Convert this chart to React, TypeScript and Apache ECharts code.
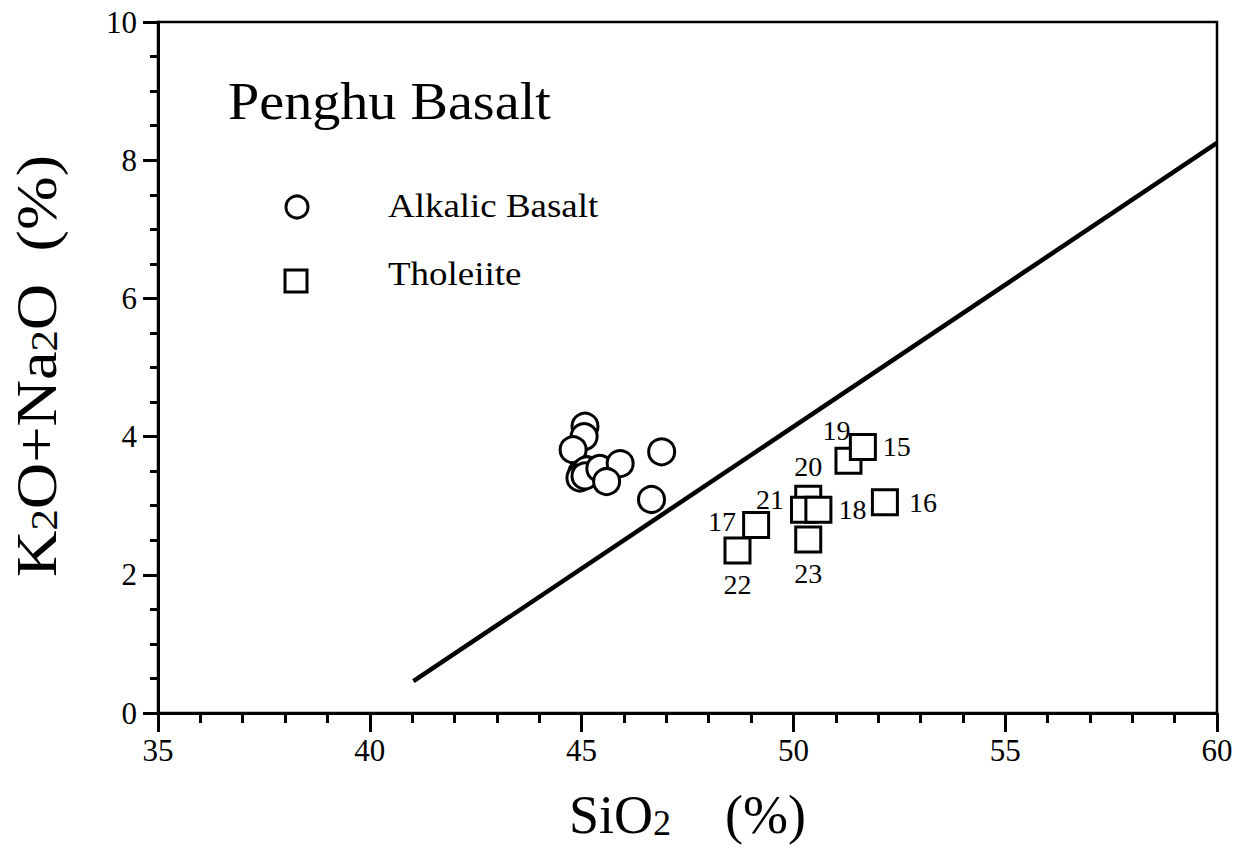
import React, { useEffect, useRef } from "react";
import * as echarts from "echarts";

const FONT = "'Liberation Serif', 'Times New Roman', serif";

const xTicks = [35, 40, 45, 50, 55, 60];
const yTicks = [0, 2, 4, 6, 8, 10];

const alkalicX = [45.08, 45.06, 44.8, 45.0, 45.12, 44.96, 45.08, 45.43, 45.91, 45.59, 46.89, 46.65];
const alkalicY = [4.15, 4.0, 3.81, 3.47, 3.52, 3.4, 3.43, 3.54, 3.61, 3.35, 3.78, 3.09];

const tholLabels = ["19", "15", "22", "17", "20", "21", "23", "18", "16"];
const tholX = [51.3, 51.64, 48.68, 49.12, 50.35, 50.25, 50.35, 50.59, 52.16];
const tholY = [3.65, 3.85, 2.35, 2.72, 3.1, 2.94, 2.51, 2.94, 3.05];
const tholLabelPos = ["top", "right", "bottom", "left", "top", "left", "bottom", "right", "right"];
const tholLabelOffset = [[-12, 4], [0, 0], [0, 0], [0, -4], [0, 2], [0, -10], [0, 0], [0, 0], [4, 0]];

const dividerX = [41.03, 60];
const dividerY = [0.46, 8.25];

export default function App() {
  const ref = useRef<HTMLDivElement>(null);
  useEffect(() => {
    if (!ref.current) return;
    const chart = echarts.init(ref.current, null, { renderer: "svg" });
    const xRich = {
      n: { fontSize: 54, fontFamily: FONT, color: "#000", lineHeight: 60 },
      s: { fontSize: 36, fontFamily: FONT, color: "#000", verticalAlign: "bottom", lineHeight: 60, padding: [0, 0, 4, 0] },
    };
    chart.setOption({
      animation: false,
      backgroundColor: "#fff",
      grid: {
        left: 158,
        top: 22,
        width: 1059,
        height: 694,
        show: true,
        borderColor: "#000",
        borderWidth: 2.5,
        backgroundColor: "transparent",
      },
      xAxis: {
        type: "value",
        min: xTicks[0],
        max: xTicks[xTicks.length - 1],
        interval: 5,
        name: "{n|SiO}{s|2}{n|    (%)}",
        nameLocation: "middle",
        nameGap: 72,
        nameTextStyle: { rich: xRich },
        axisLine: { show: true, onZero: false, lineStyle: { color: "#000", width: 3 } },
        axisTick: { show: true, inside: false, length: 19, lineStyle: { color: "#000", width: 3 } },
        minorTick: { show: true, splitNumber: 5, length: 10, lineStyle: { color: "#000", width: 3 } },
        splitLine: { show: false },
        axisLabel: { fontFamily: FONT, fontSize: 31, color: "#000", margin: 22 },
      },
      yAxis: {
        type: "value",
        min: yTicks[0],
        max: yTicks[yTicks.length - 1],
        interval: 2,
        axisLine: { show: true, onZero: false, lineStyle: { color: "#000", width: 3 } },
        axisTick: { show: true, inside: false, length: 15, lineStyle: { color: "#000", width: 3 } },
        minorTick: { show: true, splitNumber: 4, length: 8, lineStyle: { color: "#000", width: 3 } },
        splitLine: { show: false },
        axisLabel: { fontFamily: FONT, fontSize: 31, color: "#000", margin: 21 },
      },
      graphic: [
        {
          type: "text",
          x: 228,
          y: 102,
          scaleX: 1.08,
          style: { text: "Penghu Basalt", fontFamily: FONT, fontSize: 52, fill: "#000", verticalAlign: "middle" },
        },
        {
          type: "text",
          x: 37,
          y: 366,
          rotation: Math.PI / 2,
          scaleX: 1.15,
          scaleY: 1.0,
          style: {
            text: "{n|K}{s|2}{n|O+Na}{s|2}{n|O}{n|  (%)}",
            align: "center",
            verticalAlign: "middle",
            rich: {
              n: { fontSize: 56, fontFamily: FONT, fill: "#000", lineHeight: 60 },
              s: { fontSize: 37, fontFamily: FONT, fill: "#000", verticalAlign: "bottom", lineHeight: 60, padding: [0, 0, 4, 0] },
            },
          },
        },
        { type: "circle", shape: { cx: 297, cy: 207, r: 11 }, style: { fill: "#fff", stroke: "#000", lineWidth: 3 } },
        { type: "rect", shape: { x: 285, y: 270, width: 22, height: 22 }, style: { fill: "#fff", stroke: "#000", lineWidth: 3 } },
        { type: "text", x: 388, y: 206, scaleX: 1.12, style: { text: "Alkalic Basalt", fontFamily: FONT, fontSize: 33, fill: "#000", verticalAlign: "middle" } },
        { type: "text", x: 388, y: 274, scaleX: 1.12, style: { text: "Tholeiite", fontFamily: FONT, fontSize: 33, fill: "#000", verticalAlign: "middle" } },
      ],
      series: [
        {
          type: "line",
          data: dividerX.map((x, i) => [x, dividerY[i]]),
          symbol: "none",
          lineStyle: { color: "#000", width: 4.5 },
          z: 1,
        },
        {
          type: "scatter",
          data: alkalicX.map((x, i) => [x, alkalicY[i]]),
          symbol: "circle",
          symbolSize: 26,
          itemStyle: { color: "#fff", borderColor: "#000", borderWidth: 3, opacity: 1 },
          z: 3,
        },
        {
          type: "scatter",
          data: tholX.map((x, i) => ({
            value: [x, tholY[i]],
            label: {
              show: true,
              formatter: tholLabels[i],
              position: tholLabelPos[i],
              offset: tholLabelOffset[i],
              distance: 6,
            },
          })),
          symbol: "rect",
          symbolSize: 25,
          itemStyle: { color: "#fff", borderColor: "#000", borderWidth: 3, opacity: 1 },
          label: { fontFamily: FONT, fontSize: 28, color: "#000" },
          z: 3,
        },
      ],
    });
    return () => chart.dispose();
  }, []);
  return (
    <div
      ref={ref}
      style={{ position: "absolute", left: 0, top: 0, width: 1237, height: 850 }}
    />
  );
}
